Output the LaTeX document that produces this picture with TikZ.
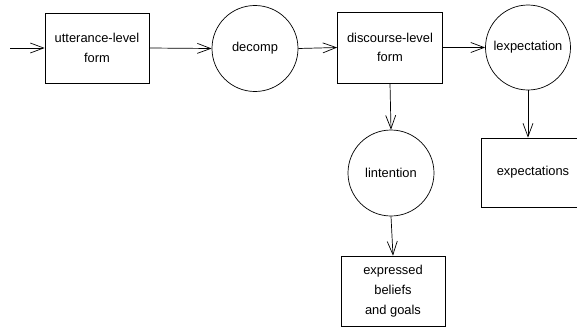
\documentclass[tikz,border=0pt]{standalone}
\usepackage{fontspec}
\setmainfont{Liberation Sans}
\usetikzlibrary{arrows.meta}

\begin{document}
\begin{tikzpicture}[x=0.03cm, y=-0.03cm,
    font=\fontsize{11}{16.8}\selectfont,
    line width=0.6pt,
    >={Straight Barb[length=4mm,width=3mm]},
    level/.style={draw=black, align=center, inner sep=0pt},
    proc/.style={draw=black, circle, inner sep=0pt,
      minimum size=2.58cm}]
      \useasboundingbox (0,0) rectangle (577,330);

      \coordinate (input) at (10,48);

      \node (utter) at (97,48) [level, minimum width=3.12cm,
      minimum height=2.1cm]
      {utterance-level\\form};

      \node (decomp) at (255,48.5) [proc]
      {decomp};

      \node (discourse) at (390,47.5) [level, minimum width=3.15cm,
      minimum height=2.13cm]
      {discourse-level\\form};

      \node (lexpect) at (528,47.5) [proc, minimum size=2.55cm]
      {lexpectation};

      \node (lintent) at (391,173) [proc]
      {lintention};

      \node (expect) at (533,172.5) [level, minimum width=3.12cm,
      minimum height=2.07cm]
      {expectations};

      \node (beliefs) at (393,291) [level, minimum width=3.12cm,
      minimum height=2.1cm]
      {expressed\\beliefs\\and goals};

      \draw[->] (input) -- (utter.west);

      \draw[->] (utter.east) -- (decomp.west);

      \draw[->] (decomp.east) -- (discourse.west);

      \draw[->] (discourse.east) -- (lexpect.west);

      \draw[->] (discourse.south) -- (lintent.north);

      \draw[->] (lexpect.south) -- (lexpect.south |- expect.north);

      \draw[->] (lintent.south) -- (beliefs.north);
    \end{tikzpicture}
\end{document}
